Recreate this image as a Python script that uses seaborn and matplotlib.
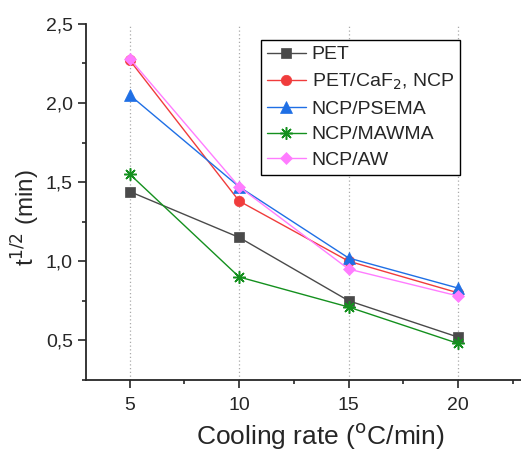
import pandas as pd
import matplotlib.pyplot as plt
import matplotlib.ticker as mticker
import seaborn as sns

# cooling rates and half-time of crystallization per sample
rates = [5, 10, 15, 20]
pet = [1.44, 1.15, 0.75, 0.52]
pet_caf2 = [2.27, 1.38, 1.00, 0.80]
psema = [2.05, 1.47, 1.02, 0.83]
mawma = [1.55, 0.90, 0.71, 0.48]
aw = [2.28, 1.47, 0.95, 0.78]

labels = ["PET", "PET/CaF$_2$, NCP", "NCP/PSEMA", "NCP/MAWMA", "NCP/AW"]
series = [pet, pet_caf2, psema, mawma, aw]
colors = ["#4a4a4a", "#f03c3c", "#1f6fe5", "#14901e", "#ff7cff"]
markers = ["s", "o", "^", (8, 2, 0), "D"]
msizes = [6.5, 7.5, 8, 9, 6.5]

sns.set_style("ticks")
plt.rcParams['font.family'] = ['Liberation Sans', 'DejaVu Sans']

fig = plt.figure(figsize=(5.21, 4.5), dpi=100)
ax = fig.add_axes([0.165, 0.156, 0.84, 0.791])

for lab, vals, c, m, ms in zip(labels, series, colors, markers, msizes):
    df = pd.DataFrame({"rate": rates, "t": vals})
    sns.lineplot(data=df, x="rate", y="t", ax=ax, color=c, marker=m, markersize=ms,
                 markeredgecolor=c, markeredgewidth=1.1 if m == (8, 2, 0) else 0.5,
                 linewidth=1, label=lab)

for x in rates:
    ax.axvline(x, color="#aaaaaa", linestyle=(0, (1, 2)), linewidth=0.9, zorder=0)

ax.set_xlim(3, 23)
ax.set_ylim(0.25, 2.5)
ax.set_xticks(rates)
ax.xaxis.set_minor_locator(mticker.MultipleLocator(2.5))
ax.yaxis.set_major_locator(mticker.MultipleLocator(0.5))
ax.yaxis.set_minor_locator(mticker.MultipleLocator(0.25))
ax.yaxis.set_major_formatter(mticker.FuncFormatter(lambda v, p: f"{v:.1f}".replace(".", ",")))
ax.tick_params(which="major", direction="out", length=5.5, width=1.2, labelsize=14, pad=4)
ax.tick_params(axis="x", which="major", pad=7)
ax.tick_params(which="minor", direction="out", length=3, width=1.2)
sns.despine(ax=ax)
for s in ["left", "bottom"]:
    ax.spines[s].set_linewidth(1.3)

ax.set_xlabel("Cooling rate ($^{\\rm o}$C/min)", fontsize=19)
ax.set_ylabel("t$^{1/2}$ (min)", fontsize=17.5)
ax.xaxis.set_label_coords(0.535, -0.115)
ax.yaxis.set_label_coords(-0.1, 0.455)

leg = ax.legend(loc="upper left", bbox_to_anchor=(0.4, 0.955), fontsize=14,
                frameon=True, fancybox=False, edgecolor="black", framealpha=1,
                handlelength=2.0, borderpad=0.3, labelspacing=0.42, handletextpad=0.3,
                borderaxespad=0)
leg.get_frame().set_linewidth(1)

fig.savefig("out.png", dpi=100)
